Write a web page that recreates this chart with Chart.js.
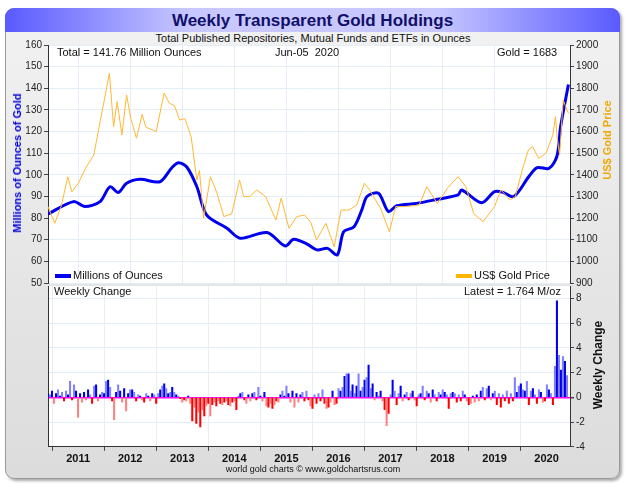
<!DOCTYPE html>
<html>
<head>
<meta charset="utf-8">
<script src="https://cdn.jsdelivr.net/npm/chart.js@4"></script>
<style>
  body { margin: 0; width: 626px; height: 483px; background: #fff; font-family: "Liberation Sans", Arial, sans-serif; position: relative; overflow: hidden; }
  #frame { position: absolute; left: 5px; top: 8px; width: 613px; height: 469px; border: 1px solid #999; border-radius: 9px; background: linear-gradient(#f2f2f2, #dcdcdc); box-shadow: 2px 2px 3px #aaa; }
  #titlebar { position: absolute; left: 5px; top: 8px; width: 615px; height: 24px; border-radius: 9px 9px 0 0; background: linear-gradient(90deg, #5a5aff, #c8c8ff 30%, #c8c8ff 70%, #5a5aff); text-align: center; font-weight: bold; font-size: 17px; line-height: 25px; color: #10106a; }
  .t { position: absolute; font-size: 11px; color: #111; white-space: nowrap; }
  .rot { position: absolute; font-size: 11px; font-weight: bold; white-space: nowrap; transform: translate(-50%, -50%) rotate(-90deg); }
  canvas { position: absolute; }
  .leg { display: inline-block; width: 16px; height: 4px; vertical-align: middle; margin-right: 2px; }
</style>
</head>
<body>
<div id="frame"></div>
<div id="titlebar">Weekly Transparent Gold Holdings</div>
<div class="t" style="left:0;width:626px;text-align:center;top:32px;">Total Published Repositories, Mutual Funds and ETFs in Ounces</div>
<canvas id="top" width="626" height="254" style="left:0;top:37px;"></canvas>
<canvas id="bot" width="626" height="190" style="left:0;top:278px;"></canvas>
<div class="t" style="left:57px;top:46px;">Total = 141.76 Million Ounces</div>
<div class="t" style="left:275px;top:46px;">Jun-05&nbsp; 2020</div>
<div class="t" style="left:497px;top:46px;">Gold = 1683</div>
<div class="t" style="left:55px;top:269px;"><span class="leg" style="background:#0000ee"></span>Millions of Ounces</div>
<div class="t" style="left:456px;top:269px;"><span class="leg" style="background:#ffb400"></span>US$ Gold Price</div>
<div class="t" style="left:54px;top:285px;">Weekly Change</div>
<div class="t" style="left:464px;top:285px;">Latest = 1.764 M/oz</div>
<div class="rot" style="left:17px;top:163px;color:#0000dd;">Millions of Ounces of Gold</div>
<div class="rot" style="left:607px;top:140px;color:#f0a800;">US$ Gold Price</div>
<div class="rot" style="left:598px;top:365px;color:#111;font-size:12px;">Weekly Change</div>
<div class="t" style="left:0;width:626px;text-align:center;top:464px;font-size:9px;">world gold charts © www.goldchartsrus.com</div>
<script>
// Holdings (million oz) by decimal year
const holdDates = [2010.42,2010.91,2011.13,2011.42,2011.61,2011.77,2011.93,2012.19,2012.57,2012.8,2012.93,2013.09,2013.28,2013.47,2013.86,2014.11,2014.63,2014.98,2015.14,2015.4,2015.59,2015.79,2015.98,2016.1,2016.3,2016.45,2016.55,2016.77,2016.96,2017.12,2017.5,2017.9,2018.3,2018.37,2018.75,2019.0,2019.15,2019.37,2019.66,2019.82,2020.05,2020.2,2020.27,2020.42];
const holdValues = [81.9,87.6,85.3,87.6,94.5,91.8,96.1,97.9,96.8,103.3,105.6,103.5,94.5,81.4,75.3,70.7,73.3,67.1,70.2,68,65.3,66,63,73.7,76,83.8,90,91.5,83,85.7,86.8,88.7,90.7,93,87.1,92.2,92,90,99.2,103.3,103,108.7,122.3,141.76];

// Gold price (US$) by decimal year
const priceDates = [2010.42,2010.55,2010.68,2010.8,2010.88,2011.0,2011.14,2011.3,2011.6,2011.68,2011.75,2011.84,2011.93,2012.01,2012.12,2012.23,2012.3,2012.5,2012.65,2012.75,2012.85,2012.95,2013.05,2013.17,2013.28,2013.33,2013.41,2013.54,2013.66,2013.8,2013.95,2014.1,2014.18,2014.3,2014.43,2014.6,2014.8,2014.9,2015.05,2015.2,2015.35,2015.47,2015.58,2015.76,2015.92,2016.05,2016.2,2016.35,2016.5,2016.6,2016.82,2016.98,2017.1,2017.3,2017.55,2017.7,2017.9,2018.1,2018.3,2018.45,2018.6,2018.78,2019.0,2019.12,2019.3,2019.4,2019.53,2019.65,2019.73,2019.85,2019.99,2020.12,2020.17,2020.2,2020.25,2020.32,2020.36,2020.42];
const priceValues = [1253,1176,1260,1391,1322,1360,1430,1492,1869,1622,1738,1584,1769,1661,1569,1680,1620,1600,1777,1731,1720,1653,1660,1576,1376,1420,1199,1391,1320,1207,1220,1376,1299,1300,1330,1300,1191,1292,1153,1207,1214,1180,1099,1176,1068,1237,1237,1260,1361,1330,1240,1137,1253,1253,1260,1345,1268,1340,1391,1345,1220,1184,1253,1330,1284,1300,1420,1515,1530,1476,1500,1584,1669,1580,1492,1746,1720,1684];

// Weekly change (M oz), roughly every two weeks from mid 2010
const changeStart = 2010.42;
const changeStep = 0.0385;
const changeValues = [
  0.3,0.2,0.5,-0.5,0.3,0.6,0.1,0.4,-0.3,0.5,0.2,1.3,-0.2,1.0,0.5,
  -1.6,0.3,-0.4,0.4,-0.2,0.6,0.2,-0.5,0.9,1.0,-0.3,0.2,0.4,0.3,1.3,1.4,0.8,-0.3,-1.8,0.4,1.0,0.5,-0.4,0.7,-1.1,0.3,
  0.6,0.6,0.4,-0.3,0.2,0.1,-0.2,-0.4,0.3,0.1,-0.3,0.3,0.2,-0.5,0.3,0.6,0.9,1.1,0.7,0.3,0.4,0.8,0.4,0.2,0.1,-0.1,
  -0.4,-0.2,-0.3,0.1,-0.5,-1.9,-0.8,-2.1,-1.2,-2.4,-1.0,-1.5,-0.7,-0.5,-1.5,-0.6,-0.4,-0.7,-0.3,-0.5,-0.6,-0.4,-0.3,-0.6,-0.7,-0.4,
  -0.3,-1.0,0.1,0.3,0.4,-0.2,-0.5,0.2,-0.3,0.3,0.4,-0.2,0.8,0.1,-0.3,0.4,-0.7,-0.8,-0.5,-0.9,-0.6,-0.3,-0.4,0.2,0.5,0.1,
  0.9,0.3,-0.4,0.5,-0.8,0.3,-0.4,0.2,0.4,-0.3,0.5,-0.2,-0.7,-0.9,0.2,-0.5,0.3,-0.3,0.6,-0.5,-0.9,-0.8,-0.4,0.5,-0.6,-0.5,
  0.7,0.5,0.8,1.7,1.9,1.9,0.5,1.0,0.3,0.9,1.9,0.5,0.8,1.4,1.6,2.6,0.7,1.1,-0.2,0.4,0.1,0.5,-0.3,-1.0,-2.3,-1.3,
  0.2,1.4,0.5,-0.6,0.3,0.9,-0.3,0.2,0.4,-0.2,0.3,0.5,-0.2,-0.7,0.2,0.3,0.9,-0.2,0.5,0.3,-0.4,0.6,0.2,-0.3,0.4,0.2,
  0.6,0.4,0.2,-0.9,0.3,0.4,0.3,-0.4,0.2,-0.3,0.5,0.2,-0.3,-0.6,-0.5,0.1,-0.4,0.2,-0.3,0.5,0.8,-0.2,0.7,0.9,-0.2,0.3,
  0.5,-0.6,0.3,-0.8,0.2,-0.3,0.5,-0.5,0.3,-0.3,1.6,0.4,0.9,1.1,0.6,0.5,1.3,-0.6,0.5,0.7,0.2,-0.5,0.6,0.4,-0.4,-0.3,
  1.0,0.6,0.3,-0.6,2.5,7.8,3.4,2.2,3.3,2.9,1.764
];
const yearTicks = [2011,2012,2013,2014,2015,2016,2017,2018,2019,2020];

const X_MIN = 2010.42, X_MAX = 2020.45;
const gridCol = '#e3eef8';
const tickFont = { family: 'Liberation Sans', size: 10 };

function fixWidth(w) { return scale => { scale.width = w; }; }
function yearGrid(scale) { scale.ticks = yearTicks.map(v => ({ value: v })); }
const plain = v => String(v);

// paint plot area white before grid
const whiteArea = {
  id: 'whiteArea',
  beforeDraw(chart) {
    const a = chart.chartArea, ctx = chart.ctx;
    ctx.save();
    ctx.fillStyle = '#fff';
    ctx.fillRect(a.left, a.top, a.right - a.left, a.bottom - a.top);
    ctx.restore();
  }
};

const holdPts = holdDates.map((d, i) => ({ x: d, y: holdValues[i] }));
const pricePts = priceDates.map((d, i) => ({ x: d, y: priceValues[i] }));

new Chart(document.getElementById('top'), {
  type: 'line',
  plugins: [whiteArea],
  data: { datasets: [
    { data: pricePts, yAxisID: 'yR', borderColor: '#ffb833', borderWidth: 1, pointRadius: 0, tension: 0 },
    { data: holdPts, yAxisID: 'yL', borderColor: '#0000ee', borderWidth: 3, pointRadius: 0, tension: 0.3 }
  ]},
  options: {
    animation: false, responsive: false,
    layout: { padding: { top: 2, bottom: 0 } },
    plugins: { legend: { display: false }, tooltip: { enabled: false } },
    scales: {
      x: { type: 'linear', min: X_MIN, max: X_MAX, afterBuildTicks: yearGrid,
           grid: { color: gridCol, drawTicks: false }, border: { display: false },
           ticks: { display: false } },
      yL: { position: 'left', min: 50, max: 160, afterFit: fixWidth(48),
            ticks: { stepSize: 10, font: tickFont, color: '#222', padding: 2, callback: plain },
            grid: { color: gridCol, tickLength: 4, tickColor: '#444' }, border: { color: '#333' } },
      yR: { position: 'right', min: 900, max: 2000, afterFit: fixWidth(56),
            ticks: { stepSize: 100, font: tickFont, color: '#222', padding: 2, callback: plain },
            grid: { drawOnChartArea: false, tickLength: 4, tickColor: '#444' }, border: { color: '#333' } }
    }
  }
});

const barPts = changeValues.map((v, i) => ({ x: changeStart + i * changeStep, y: v }));
const barCols = changeValues.map((v, i) => v >= 0 ? (i % 2 ? '#8080ff' : '#0000ee') : (i % 2 ? '#ff8080' : '#ff0000'));

new Chart(document.getElementById('bot'), {
  type: 'bar',
  plugins: [whiteArea],
  data: { datasets: [{ data: barPts, backgroundColor: barCols, barThickness: 1.4, yAxisID: 'yR' }] },
  options: {
    animation: false, responsive: false,
    layout: { padding: { top: 0, bottom: 0 } },
    plugins: { legend: { display: false }, tooltip: { enabled: false } },
    scales: {
      x: { type: 'linear', min: X_MIN, max: X_MAX, afterBuildTicks: yearGrid, offset: false,
           grid: { color: gridCol, tickLength: 4, tickColor: '#444' }, border: { color: '#333' },
           ticks: { font: { family: 'Liberation Sans', size: 11, weight: 'bold' }, color: '#111', padding: 2, maxRotation: 0, callback: plain } },
      yL: { position: 'left', min: -4, max: 9, afterFit: fixWidth(48),
            ticks: { display: false }, grid: { display: false }, border: { color: '#333' } },
      yR: { position: 'right', min: -4, max: 9, afterFit: fixWidth(56),
            afterBuildTicks: s => { s.ticks = [-4, -2, 0, 2, 4, 6, 8].map(v => ({ value: v })); },
            ticks: { font: tickFont, color: '#222', padding: 2, callback: plain },
            grid: { color: c => c.tick.value === 0 ? '#ff00ff' : gridCol, lineWidth: c => c.tick.value === 0 ? 1.5 : 1, tickLength: 4, tickColor: '#444' },
            border: { color: '#333' } }
    }
  }
});
</script>
</body>
</html>
